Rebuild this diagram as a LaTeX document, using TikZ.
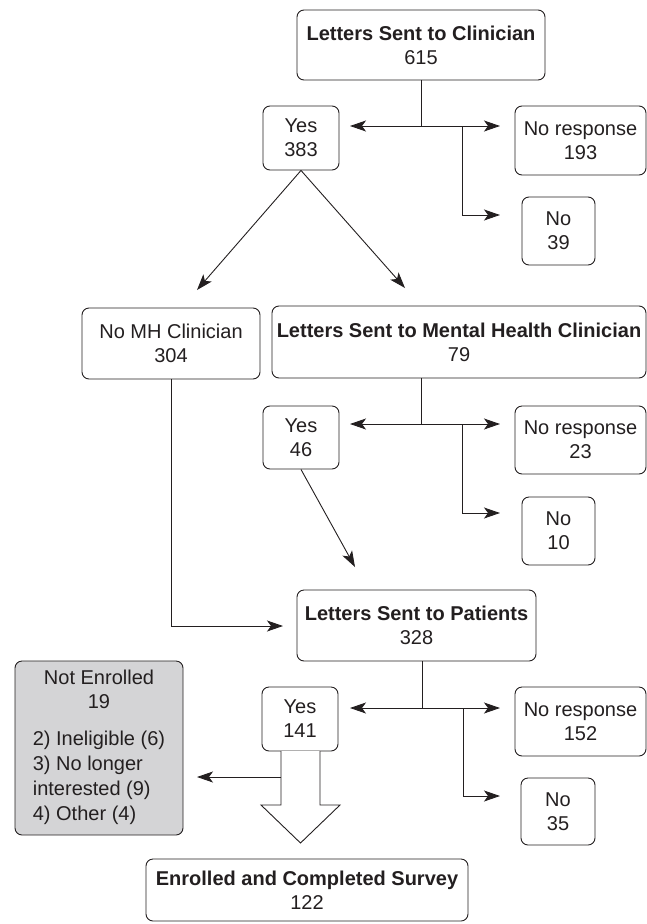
\documentclass[tikz,border=0pt]{standalone}
\usepackage{fontspec}
\setmainfont{Liberation Sans}
\usetikzlibrary{arrows.meta}
\definecolor{ink}{HTML}{231F20}
\definecolor{grayfill}{HTML}{D4D4D6}
\begin{document}
\begin{tikzpicture}[x=1pt,y=-1pt,
  box/.style={draw=ink, rounded corners=7pt, line width=0.9pt, inner sep=0pt, align=center, text=ink, font=\fontsize{20}{24}\selectfont},
  arr/.style={draw=ink, line width=0.9pt, -{Stealth[length=16pt,width=11pt,inset=4pt]}},
  ln/.style={draw=ink, line width=0.9pt}]
\useasboundingbox (0,0) rectangle (647,924);

% boxes
\node[box, minimum width=248pt, minimum height=70pt] (top) at (421,45) {\textbf{Letters Sent to Clinician}\\615};
\node[box, minimum width=76pt, minimum height=64pt] (yes1) at (301,138) {Yes\\383};
\node[box, minimum width=131pt, minimum height=69pt] (nr1) at (580.5,140.5) {No response\\193};
\node[box, minimum width=73pt, minimum height=68pt] (no1) at (558.5,231) {No\\39};

\node[box, minimum width=178pt, minimum height=71pt] (nomh) at (171,343.5) {No MH Clinician\\304};
\node[box, minimum width=374pt, minimum height=72pt] (mh) at (459,342) {\textbf{Letters Sent to Mental Health Clinician}\\79};
\node[box, minimum width=76pt, minimum height=63pt] (yes2) at (301,437.5) {Yes\\46};
\node[box, minimum width=131pt, minimum height=68pt] (nr2) at (580.5,440) {No response\\23};
\node[box, minimum width=73pt, minimum height=68pt] (no2) at (558.5,531) {No\\10};

\node[box, minimum width=239pt, minimum height=71pt] (pat) at (416.5,625.5) {\textbf{Letters Sent to Patients}\\328};
\node[box, minimum width=76pt, minimum height=64pt] (yes3) at (300,719) {Yes\\141};
\node[box, minimum width=131pt, minimum height=69pt] (nr3) at (580.5,721.5) {No response\\152};
\node[box, minimum width=74pt, minimum height=67pt] (no3) at (558,811.5) {No\\35};
\node[box, fill=grayfill, minimum width=168pt, minimum height=174pt] (notenr) at (99,748)
  {\begin{tabular}{@{}l@{}}\multicolumn{1}{@{}c@{}}{Not Enrolled}\\\multicolumn{1}{@{}c@{}}{19}\\[13pt]
   2) Ineligible (6)\\[1pt]3) No longer\\[1pt]interested (9)\\[1pt]4) Other (4)\end{tabular}};
\node[box, minimum width=322pt, minimum height=62pt] (enr) at (307,890) {\textbf{Enrolled and Completed Survey}\\122};

% row 1 connectors
\coordinate (j1) at (421,126);
\coordinate (y1t) at (350,126);
\coordinate (n1t) at (500,126);
\coordinate (b1) at (462,126);
\coordinate (no1t) at (500,215);
\draw[ln] (top.south) -- (j1);
\draw[arr] (j1) -- (y1t);
\draw[arr] (j1) -- (n1t);
\draw[arr] (b1) |- (no1t);
\coordinate (d1) at (197,290);
\coordinate (d2) at (405,288);
\draw[arr] (yes1.south) -- (d1);
\draw[arr] (yes1.south) -- (d2);

% row 2 connectors
\coordinate (j2) at (421,424);
\coordinate (y2t) at (350,424);
\coordinate (n2t) at (500,424);
\coordinate (b2) at (462,424);
\coordinate (no2t) at (500,513);
\draw[ln] (j2 |- mh.south) -- (j2);
\draw[arr] (j2) -- (y2t);
\draw[arr] (j2) -- (n2t);
\draw[arr] (b2) |- (no2t);
\coordinate (d3) at (355,567);
\draw[arr] (yes2.south) -- (d3);
\coordinate (p1) at (283,626);
\draw[arr] (nomh.south) |- (p1);

% row 3 connectors
\coordinate (j3) at (422,708);
\coordinate (y3t) at (350,708);
\coordinate (n3t) at (500,708);
\coordinate (b3) at (463,708);
\coordinate (no3t) at (500,796);
\draw[ln] (j3 |- pat.south) -- (j3);
\draw[arr] (j3) -- (y3t);
\draw[arr] (j3) -- (n3t);
\draw[arr] (b3) |- (no3t);

% block arrow
\draw[ln, fill=white, line join=miter] (281,751) -- (281,805) -- (261,805) -- (300.5,843) -- (340,805) -- (320,805) -- (320,751);
\coordinate (s1) at (281,777);
\coordinate (ne) at (197,777);
\draw[arr] (s1) -- (ne);
\end{tikzpicture}
\end{document}
